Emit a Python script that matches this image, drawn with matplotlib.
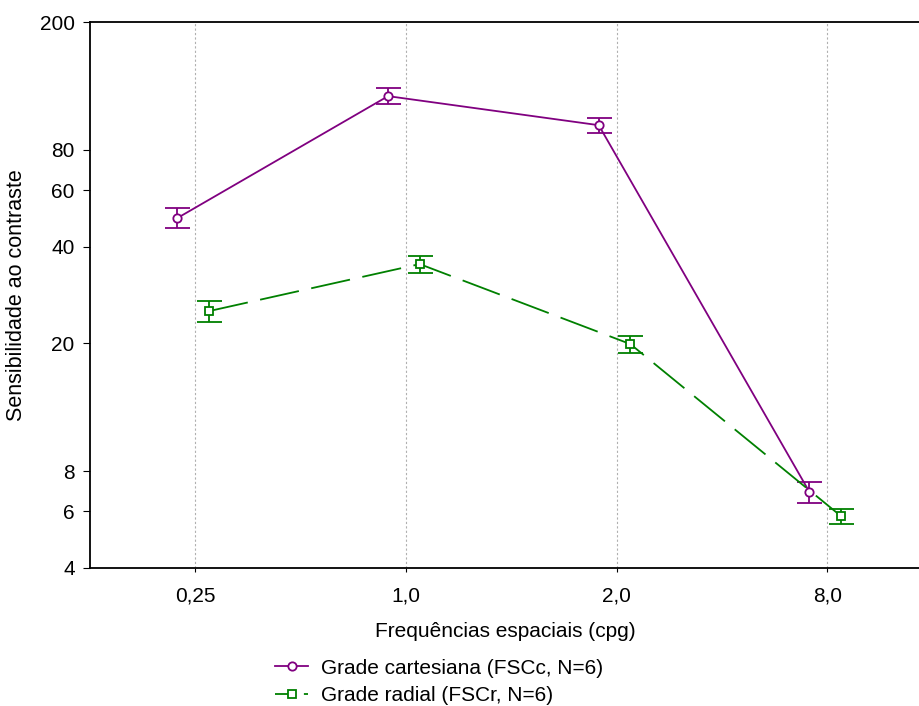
import numpy as np
import matplotlib.pyplot as plt
from matplotlib.lines import Line2D
from matplotlib.ticker import FixedLocator, NullLocator

plt.rcParams['font.family'] = ['Liberation Sans', 'DejaVu Sans']
plt.rcParams['font.size'] = 15

freq_labels = ["0,25", "1,0", "2,0", "8,0"]

# contrast sensitivity, mean and error half-width
cart_mean = [49.1, 117.6, 95.5, 6.9]
cart_err = [3.5, 6.7, 5.0, 0.53]
rad_mean = [25.2, 35.3, 19.9, 5.8]
rad_err = [1.9, 2.1, 1.2, 0.3]

y_ticks = [4, 6, 8, 20, 40, 60, 80, 200]

purple = "#800080"
green = "#008000"

x = np.arange(len(freq_labels))

fig = plt.figure(figsize=(9.2, 7.06), dpi=100)
ax = fig.add_axes([0.0978, 0.1955, 0.9022, 0.7733])

ax.errorbar(x - 0.085, cart_mean, yerr=cart_err, color=purple, lw=1.3,
            marker="o", ms=6, mfc="white", mec=purple, mew=1.3,
            capsize=9, capthick=1.3, elinewidth=1.3)
ax.errorbar(x + 0.065, rad_mean, yerr=rad_err, color=green, lw=1.3,
            marker="s", ms=6, mfc="white", mec=green, mew=1.3,
            capsize=9, capthick=1.3, elinewidth=1.3, dashes=(22, 7))

ax.set_yscale("log")
ax.set_ylim(4, 200)
ax.yaxis.set_major_locator(FixedLocator(y_ticks))
ax.yaxis.set_minor_locator(NullLocator())
ax.set_yticklabels([str(t) for t in y_ticks])

ax.set_xlim(-0.5, 3.44)
ax.set_xticks(x)
ax.set_xticklabels(freq_labels)
ax.tick_params(axis="x", length=3, pad=10)
ax.tick_params(axis="y", length=5, pad=6)
ax.xaxis.grid(True, color="#b0b0b0", ls=(0, (2, 2)), lw=0.8)

ax.spines["right"].set_visible(False)
for s in ["top", "left", "bottom"]:
    ax.spines[s].set_linewidth(1.3)

ax.set_xlabel("Frequências espaciais (cpg)", labelpad=12)
ax.set_ylabel("Sensibilidade ao contraste", fontsize=15.5, labelpad=9)

handles = [
    Line2D([], [], color=purple, lw=1.3, marker="o", ms=6, mfc="white",
           mec=purple, mew=1.3),
    Line2D([], [], color=green, lw=1.3, marker="s", ms=6, mfc="white",
           mec=green, mew=1.3, dashes=(10, 6)),
]
labels = ["Grade cartesiana (FSCc, N=6)", "Grade radial (FSCr, N=6)"]
fig.legend(handles, labels, loc="upper left", bbox_to_anchor=(0.299, 0.067),
           frameon=False, handlelength=1.6, handletextpad=0.6,
           labelspacing=0.39, borderaxespad=0, borderpad=0)

fig.savefig("out.png", dpi=100)
